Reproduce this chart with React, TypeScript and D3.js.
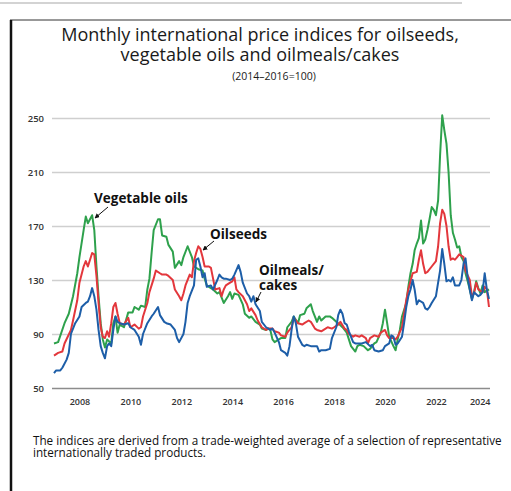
import React, { useEffect, useRef } from "react";
import * as d3 from "d3";

// monthly index values (2014-2016 = 100)
const vegetableOils: [string, number][] = [
  ["2007-01", 83], ["2007-03", 84], ["2007-06", 98], ["2007-08", 105], ["2007-10", 118], ["2007-12", 135],
  ["2008-01", 147], ["2008-03", 167], ["2008-04", 177], ["2008-05", 172], ["2008-07", 178], ["2008-08", 167],
  ["2008-09", 140], ["2008-10", 118], ["2008-11", 98], ["2008-12", 86], ["2009-01", 80], ["2009-02", 86],
  ["2009-04", 83], ["2009-05", 98], ["2009-06", 103], ["2009-07", 91], ["2009-08", 97], ["2009-10", 95],
  ["2009-12", 106], ["2010-02", 106], ["2010-03", 110], ["2010-05", 108], ["2010-06", 111], ["2010-08", 110],
  ["2010-09", 123], ["2010-10", 131], ["2010-11", 150], ["2010-12", 167], ["2011-02", 175], ["2011-03", 175],
  ["2011-04", 163], ["2011-06", 162], ["2011-07", 156], ["2011-09", 151], ["2011-10", 139], ["2011-12", 144],
  ["2012-01", 141], ["2012-02", 147], ["2012-04", 155], ["2012-06", 147], ["2012-07", 140], ["2012-09", 138],
  ["2012-11", 137], ["2012-12", 131], ["2013-01", 126], ["2013-03", 124], ["2013-04", 123], ["2013-06", 120],
  ["2013-07", 121], ["2013-09", 113], ["2013-11", 118], ["2013-12", 121], ["2014-01", 116], ["2014-02", 120],
  ["2014-04", 119], ["2014-06", 112], ["2014-07", 105], ["2014-09", 102], ["2014-10", 103], ["2014-12", 99],
  ["2015-02", 97], ["2015-03", 94], ["2015-05", 93], ["2015-06", 94], ["2015-07", 93], ["2015-08", 86],
  ["2015-09", 84], ["2015-11", 86], ["2015-12", 87], ["2016-02", 87], ["2016-03", 95], ["2016-05", 99],
  ["2016-06", 103], ["2016-08", 98], ["2016-09", 104], ["2016-11", 105], ["2016-12", 109], ["2017-02", 112],
  ["2017-03", 107], ["2017-05", 99], ["2017-06", 103], ["2017-07", 100], ["2017-09", 103], ["2017-11", 103],
  ["2017-12", 102], ["2018-02", 99], ["2018-03", 98], ["2018-05", 95], ["2018-06", 93], ["2018-07", 91],
  ["2018-08", 86], ["2018-09", 81], ["2018-11", 77], ["2018-12", 81], ["2019-01", 82], ["2019-03", 81],
  ["2019-05", 78], ["2019-06", 79], ["2019-08", 83], ["2019-09", 84], ["2019-11", 91], ["2019-12", 98],
  ["2020-01", 108], ["2020-02", 98], ["2020-03", 88], ["2020-05", 81], ["2020-06", 78], ["2020-07", 86],
  ["2020-08", 93], ["2020-09", 103], ["2020-11", 113], ["2020-12", 125], ["2021-01", 135], ["2021-02", 142],
  ["2021-03", 152], ["2021-04", 157], ["2021-05", 161], ["2021-06", 174], ["2021-07", 157], ["2021-08", 160],
  ["2021-09", 167], ["2021-10", 175], ["2021-11", 184], ["2021-12", 182], ["2022-01", 178], ["2022-02", 189],
  ["2022-03", 222], ["2022-04", 252], ["2022-05", 241], ["2022-06", 231], ["2022-07", 210], ["2022-08", 178],
  ["2022-09", 165], ["2022-10", 160], ["2022-11", 154], ["2022-12", 155], ["2023-01", 147], ["2023-02", 144],
  ["2023-03", 135], ["2023-04", 129], ["2023-05", 123], ["2023-06", 116], ["2023-07", 121], ["2023-08", 129],
  ["2023-09", 124], ["2023-10", 120], ["2023-11", 126], ["2023-12", 121], ["2024-02", 123],
];

const oilseeds: [string, number][] = [
  ["2007-01", 74], ["2007-03", 76], ["2007-05", 77], ["2007-06", 83], ["2007-09", 93], ["2007-10", 100],
  ["2007-12", 115], ["2008-01", 128], ["2008-03", 140], ["2008-04", 144], ["2008-05", 140], ["2008-06", 145],
  ["2008-07", 150], ["2008-08", 149], ["2008-09", 133], ["2008-10", 113], ["2008-11", 95], ["2008-12", 88],
  ["2009-01", 87], ["2009-02", 92], ["2009-03", 88], ["2009-04", 98], ["2009-05", 110], ["2009-06", 113],
  ["2009-07", 105], ["2009-08", 98], ["2009-10", 97], ["2009-12", 102], ["2010-01", 95], ["2010-03", 97],
  ["2010-05", 94], ["2010-06", 95], ["2010-07", 103], ["2010-09", 113], ["2010-10", 121], ["2010-12", 131],
  ["2011-01", 137], ["2011-03", 135], ["2011-04", 134], ["2011-06", 134], ["2011-07", 133], ["2011-09", 130],
  ["2011-10", 123], ["2011-12", 118], ["2012-01", 115], ["2012-02", 120], ["2012-03", 126], ["2012-05", 134],
  ["2012-06", 132], ["2012-07", 144], ["2012-08", 150], ["2012-09", 155], ["2012-10", 153], ["2012-11", 147],
  ["2012-12", 140], ["2013-02", 140], ["2013-03", 139], ["2013-04", 131], ["2013-05", 123], ["2013-07", 124],
  ["2013-08", 118], ["2013-09", 123], ["2013-10", 126], ["2013-12", 128], ["2014-01", 129], ["2014-02", 132],
  ["2014-03", 123], ["2014-04", 121], ["2014-06", 118], ["2014-08", 112], ["2014-09", 107], ["2014-10", 109],
  ["2014-12", 104], ["2015-01", 100], ["2015-03", 95], ["2015-05", 93], ["2015-06", 94], ["2015-08", 94],
  ["2015-09", 92], ["2015-11", 91], ["2015-12", 89], ["2016-02", 88], ["2016-03", 91], ["2016-05", 95],
  ["2016-06", 102], ["2016-08", 98], ["2016-10", 97], ["2016-11", 98], ["2017-01", 100], ["2017-02", 99],
  ["2017-04", 94], ["2017-05", 93], ["2017-07", 92], ["2017-09", 94], ["2017-10", 95], ["2017-12", 94],
  ["2018-01", 95], ["2018-03", 97], ["2018-04", 99], ["2018-06", 94], ["2018-07", 93], ["2018-08", 90],
  ["2018-10", 88], ["2018-11", 89], ["2019-01", 88], ["2019-02", 89], ["2019-04", 87], ["2019-05", 83],
  ["2019-06", 87], ["2019-08", 89], ["2019-10", 88], ["2019-11", 91], ["2020-01", 93], ["2020-02", 89],
  ["2020-03", 87], ["2020-05", 87], ["2020-06", 86], ["2020-07", 88], ["2020-09", 95], ["2020-10", 105],
  ["2020-11", 115], ["2020-12", 123], ["2021-01", 129], ["2021-02", 135], ["2021-04", 136], ["2021-05", 145],
  ["2021-06", 152], ["2021-07", 142], ["2021-08", 135], ["2021-09", 136], ["2021-11", 140], ["2022-01", 144],
  ["2022-02", 155], ["2022-03", 172], ["2022-04", 182], ["2022-05", 179], ["2022-06", 170], ["2022-07", 155],
  ["2022-08", 145], ["2022-09", 146], ["2022-10", 145], ["2022-11", 147], ["2022-12", 149], ["2023-01", 148],
  ["2023-02", 147], ["2023-03", 137], ["2023-05", 130], ["2023-06", 118], ["2023-07", 120], ["2023-08", 128],
  ["2023-09", 123], ["2023-11", 121], ["2023-12", 125], ["2024-01", 123], ["2024-02", 110],
];

const oilmeals: [string, number][] = [
  ["2007-01", 61], ["2007-02", 63], ["2007-04", 63], ["2007-05", 65], ["2007-07", 71], ["2007-08", 76],
  ["2007-09", 90], ["2007-11", 98], ["2008-01", 103], ["2008-02", 110], ["2008-04", 113], ["2008-05", 114],
  ["2008-06", 118], ["2008-07", 124], ["2008-08", 118], ["2008-09", 108], ["2008-10", 93], ["2008-11", 81],
  ["2008-12", 76], ["2009-01", 72], ["2009-02", 81], ["2009-03", 83], ["2009-04", 81], ["2009-05", 93],
  ["2009-06", 103], ["2009-07", 99], ["2009-08", 98], ["2009-10", 97], ["2009-12", 98], ["2010-01", 95],
  ["2010-03", 93], ["2010-05", 88], ["2010-06", 82], ["2010-07", 90], ["2010-09", 98], ["2010-11", 103],
  ["2010-12", 105], ["2011-02", 110], ["2011-03", 104], ["2011-05", 99], ["2011-06", 98], ["2011-08", 97],
  ["2011-10", 93], ["2011-11", 87], ["2011-12", 84], ["2012-02", 90], ["2012-03", 99], ["2012-04", 113],
  ["2012-05", 118], ["2012-07", 126], ["2012-08", 145], ["2012-09", 146], ["2012-10", 140], ["2012-11", 132],
  ["2012-12", 135], ["2013-01", 125], ["2013-03", 126], ["2013-04", 123], ["2013-06", 130], ["2013-07", 134],
  ["2013-08", 132], ["2013-09", 131], ["2013-10", 131], ["2013-12", 130], ["2014-01", 131], ["2014-02", 134],
  ["2014-04", 141], ["2014-05", 136], ["2014-06", 128], ["2014-08", 120], ["2014-09", 118], ["2014-10", 114],
  ["2014-11", 118], ["2014-12", 112], ["2015-02", 107], ["2015-03", 99], ["2015-05", 95], ["2015-07", 93],
  ["2015-08", 94], ["2015-09", 91], ["2015-11", 84], ["2015-12", 78], ["2016-02", 76], ["2016-03", 74],
  ["2016-04", 81], ["2016-05", 93], ["2016-06", 103], ["2016-07", 98], ["2016-08", 88], ["2016-10", 82],
  ["2016-11", 81], ["2016-12", 82], ["2017-02", 81], ["2017-03", 81], ["2017-05", 81], ["2017-06", 77],
  ["2017-07", 78], ["2017-09", 78], ["2017-11", 79], ["2017-12", 87], ["2018-02", 95], ["2018-03", 104],
  ["2018-04", 108], ["2018-05", 105], ["2018-06", 98], ["2018-07", 97], ["2018-08", 92], ["2018-10", 84],
  ["2018-11", 83], ["2019-01", 83], ["2019-02", 83], ["2019-04", 84], ["2019-06", 81], ["2019-07", 82],
  ["2019-08", 78], ["2019-10", 77], ["2019-12", 78], ["2020-01", 81], ["2020-03", 83], ["2020-04", 89],
  ["2020-05", 88], ["2020-06", 82], ["2020-07", 83], ["2020-09", 88], ["2020-10", 98], ["2020-11", 110],
  ["2020-12", 118], ["2021-01", 123], ["2021-02", 130], ["2021-03", 123], ["2021-04", 112], ["2021-05", 115],
  ["2021-07", 113], ["2021-08", 109], ["2021-09", 108], ["2021-10", 110], ["2021-11", 113], ["2022-01", 118],
  ["2022-02", 128], ["2022-03", 137], ["2022-04", 153], ["2022-05", 142], ["2022-06", 129], ["2022-07", 130],
  ["2022-08", 129], ["2022-09", 132], ["2022-10", 126], ["2022-12", 126], ["2023-01", 130], ["2023-02", 142],
  ["2023-03", 146], ["2023-04", 132], ["2023-05", 123], ["2023-06", 115], ["2023-07", 121], ["2023-09", 118],
  ["2023-10", 119], ["2023-11", 121], ["2023-12", 135], ["2024-01", 123], ["2024-02", 116],
];

const yTicks = [50, 90, 130, 170, 210, 250];
const xTickYears = [2008, 2010, 2012, 2014, 2016, 2018, 2020, 2022, 2024];

const FONT = "'Open Sans', 'Noto Sans', sans-serif";

export default function App() {
  const svgRef = useRef<SVGSVGElement>(null);

  useEffect(() => {
    document.body.style.margin = "0";
    const svg = d3.select(svgRef.current);
    svg.selectAll("*").remove();

    const plotLeft = 52;
    const plotRight = 490;
    const parse = d3.timeParse("%Y-%m");

    const x = d3.scaleTime()
      .domain([parse("2007-01"), parse("2024-02")])
      .range([54, 489]);
    const y = d3.scaleLinear().domain([50, 250]).range([388, 118]);

    // frame
    svg.append("line").attr("x1", 0).attr("x2", 462).attr("y1", 3).attr("y2", 3)
      .attr("stroke", "#c4c4c4").attr("stroke-width", 1.5);
    svg.append("line").attr("x1", 10).attr("x2", 511).attr("y1", 20).attr("y2", 20)
      .attr("stroke", "#333").attr("stroke-width", 1);
    svg.append("line").attr("x1", 11).attr("x2", 11).attr("y1", 20).attr("y2", 491)
      .attr("stroke", "#111").attr("stroke-width", 2.5);

    // title, one text block
    const title = svg.append("text").attr("font-family", FONT).attr("fill", "#1a1a1a")
      .attr("text-anchor", "middle");
    title.append("tspan").attr("x", 260).attr("y", 41).attr("font-size", 18)
      .text("Monthly international price indices for oilseeds,");
    title.append("tspan").attr("x", 260).attr("y", 61).attr("font-size", 18)
      .text("vegetable oils and oilmeals/cakes");
    title.append("tspan").attr("x", 274).attr("y", 80).attr("font-size", 10.5)
      .text("(2014–2016=100)");

    // y grid + labels
    const yAxis = svg.append("g")
      .attr("transform", `translate(${plotLeft},0)`)
      .call(d3.axisLeft(y).tickValues(yTicks).tickSize(-(plotRight - plotLeft)).tickPadding(8));
    yAxis.select(".domain").remove();
    yAxis.selectAll(".tick line")
      .attr("stroke", (d: any) => (d === 50 ? "#8c8c8c" : "#cfcfcf"))
      .attr("stroke-width", 1.5);
    yAxis.selectAll(".tick text")
      .attr("font-family", FONT).attr("font-size", 9.5).attr("font-weight", 600).attr("fill", "#333");

    // x labels
    const xAxis = svg.append("g")
      .attr("transform", "translate(0,388)")
      .call(d3.axisBottom(x)
        .tickValues(xTickYears.map((yr) => new Date(yr, 0, 1)))
        .tickFormat(d3.timeFormat("%Y") as any)
        .tickSize(0).tickPadding(11));
    xAxis.select(".domain").remove();
    xAxis.selectAll(".tick text")
      .attr("font-family", FONT).attr("font-size", 9).attr("font-weight", 600).attr("fill", "#333");
    const lastTick = xTickYears[xTickYears.length - 1];
    xAxis.selectAll(".tick text")
      .filter((d: any) => d.getFullYear() === lastTick)
      .attr("text-anchor", "end")
      .attr("x", plotRight - x(new Date(lastTick, 0, 1)));

    // series lines
    const line = d3.line<[string, number]>()
      .x((d) => x(parse(d[0]) as Date))
      .y((d) => y(d[1]));

    const series: [[string, number][], string][] = [
      [vegetableOils, "#2ea14c"],
      [oilseeds, "#e3373c"],
      [oilmeals, "#1d5ea8"],
    ];
    series.forEach(([data, color]) => {
      svg.append("path")
        .datum(data)
        .attr("d", line)
        .attr("fill", "none")
        .attr("stroke", color)
        .attr("stroke-width", 2)
        .attr("stroke-linejoin", "round");
    });

    // annotations
    svg.append("defs").append("marker")
      .attr("id", "arrowhead")
      .attr("viewBox", "0 0 8 8")
      .attr("refX", 7).attr("refY", 4)
      .attr("markerWidth", 5).attr("markerHeight", 5)
      .attr("orient", "auto")
      .append("path").attr("d", "M0,0 L8,4 L0,8 Z").attr("fill", "#111");

    const notes = svg.append("g").attr("font-family", FONT).attr("font-weight", 700)
      .attr("font-size", 13.5).attr("fill", "#111");
    notes.append("text").attr("x", 94).attr("y", 203).text("Vegetable oils");
    notes.append("text").attr("x", 210).attr("y", 239).text("Oilseeds");
    const meals = notes.append("text").attr("x", 259).attr("y", 275);
    meals.append("tspan").attr("x", 259).text("Oilmeals/");
    meals.append("tspan").attr("x", 259).attr("dy", 14.5).text("cakes");

    const arrows = [
      [108, 207, 95, 218],
      [214, 241, 203, 250],
      [261, 292, 256, 302],
    ];
    arrows.forEach(([x1, y1, x2, y2]) => {
      svg.append("line")
        .attr("x1", x1).attr("y1", y1).attr("x2", x2).attr("y2", y2)
        .attr("stroke", "#111").attr("stroke-width", 1)
        .attr("marker-end", "url(#arrowhead)");
    });

    // footnote, one text block
    const foot = svg.append("text").attr("font-family", FONT).attr("font-size", 11.7).attr("fill", "#111");
    foot.append("tspan").attr("x", 33).attr("y", 445)
      .text("The indices are derived from a trade-weighted average of a selection of representative");
    foot.append("tspan").attr("x", 33).attr("y", 457)
      .text("internationally traded products.");
  }, []);

  return <svg ref={svgRef} width={511} height={491} style={{ display: "block" }} />;
}
